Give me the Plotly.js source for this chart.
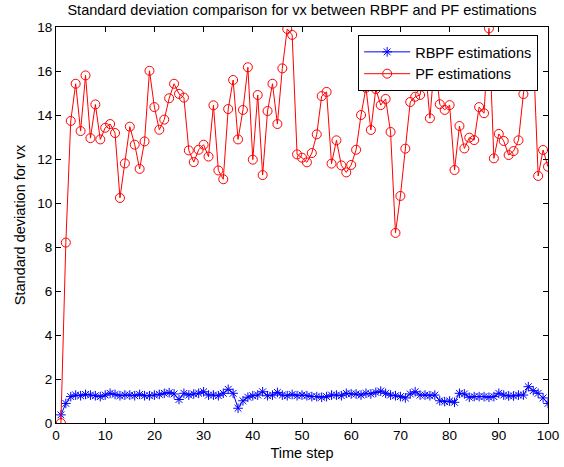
<!DOCTYPE html>
<html>
<head>
<meta charset="utf-8">
<script src="https://cdn.plot.ly/plotly-3.0.1.min.js"></script>
<style>html,body{margin:0;padding:0;background:#fff;}#chart{width:564px;height:467px;}</style>
</head>
<body>
<div id="chart"></div>
<script>
// Time steps 1..100
const rbpfStd = [0.37,0.89,1.2,1.27,1.24,1.3,1.27,1.24,1.2,1.27,
  1.35,1.3,1.24,1.27,1.27,1.24,1.3,1.24,1.24,1.27,
  1.3,1.35,1.38,1.32,1.07,1.35,1.27,1.32,1.35,1.42,
  1.27,1.27,1.24,1.35,1.53,1.35,0.67,1.01,1.17,1.24,
  1.27,1.42,1.24,1.27,1.39,1.27,1.24,1.3,1.24,1.27,
  1.24,1.2,1.2,1.17,1.2,1.27,1.27,1.24,1.35,1.32,
  1.32,1.27,1.35,1.32,1.39,1.45,1.35,1.27,1.24,1.2,
  1.14,1.32,1.42,1.27,1.27,1.24,1.27,1.01,0.97,1.0,
  0.94,1.35,1.32,1.17,1.2,1.2,1.2,1.17,1.2,1.35,
  1.27,1.23,1.23,1.27,1.27,1.65,1.47,1.35,1.14,0.89];
const pfStd = [0.0,8.2,13.73,15.42,13.27,15.8,12.95,14.48,12.89,13.42,
  13.59,13.18,10.23,11.8,13.47,12.65,11.55,12.8,16.01,14.36,
  13.33,13.79,14.76,15.42,14.96,14.79,12.39,11.86,12.42,12.65,
  12.11,14.44,11.48,11.08,14.27,15.59,12.89,14.23,16.17,11.97,
  14.91,11.27,14.18,15.42,13.59,16.12,17.91,17.64,12.21,12.06,
  11.85,12.27,13.12,14.86,15.05,11.79,12.85,11.71,11.39,11.73,
  12.42,14.0,15.24,13.32,15.18,14.45,14.73,13.23,8.64,10.32,
  12.47,14.59,14.83,14.91,16.3,13.85,16.6,14.49,14.23,14.45,
  11.5,13.5,12.48,12.97,12.86,14.36,14.08,17.94,12.03,13.14,
  12.82,12.18,12.36,12.85,14.95,16.4,16.9,11.23,12.41,11.65];
const timeStep = pfStd.map((_, i) => i + 1);
const seriesNames = ['RBPF estimations', 'PF estimations'];

const FONT = '"Liberation Sans", Arial, Helvetica, sans-serif';

const traces = [
  {
    x: timeStep, y: rbpfStd, name: seriesNames[0], type: 'scatter', mode: 'lines+markers',
    line: {color: '#0000ff', width: 1},
    marker: {symbol: 'asterisk-open', size: 8, color: '#0000ff', line: {color: '#0000ff', width: 1}}
  },
  {
    x: timeStep, y: pfStd, name: seriesNames[1], type: 'scatter', mode: 'lines+markers',
    line: {color: '#ff0000', width: 1},
    marker: {symbol: 'circle-open', size: 9, color: '#ff0000', line: {color: '#ff0000', width: 1}}
  }
];

const axisCommon = {
  showline: true, linecolor: '#000', linewidth: 1, mirror: 'ticks',
  ticks: 'inside', ticklen: 5, tickwidth: 1, tickcolor: '#000',
  showgrid: false, zeroline: false,
  tickfont: {family: FONT, size: 13.5, color: '#000'}
};

const layout = {
  width: 564, height: 467,
  margin: {l: 56, r: 16, t: 27, b: 44},
  paper_bgcolor: '#fff', plot_bgcolor: '#fff',
  font: {family: FONT, size: 14, color: '#000'},
  title: {text: 'Standard deviation comparison for vx between RBPF and PF estimations',
          x: 0.5, xref: 'paper', y: 0.979, yref: 'container', yanchor: 'middle',
          font: {family: FONT, size: 14.5, color: '#000'}},
  xaxis: Object.assign({}, axisCommon, {
    range: [0, 100], tick0: 0, dtick: 10,
    title: {text: 'Time step', font: {family: FONT, size: 14.5, color: '#000'}, standoff: 5}
  }),
  yaxis: Object.assign({}, axisCommon, {
    range: [0, 18], tick0: 0, dtick: 2,
    title: {text: 'Standard deviation for vx', font: {family: FONT, size: 14.5, color: '#000'}, standoff: 8}
  }),
  showlegend: true,
  legend: {
    x: 0.98, xanchor: 'right', y: 0.98, yanchor: 'top',
    bgcolor: '#fff', bordercolor: '#000', borderwidth: 1,
    font: {family: FONT, size: 14.5, color: '#000'},
    itemwidth: 46,
    entrywidth: 185, entrywidthmode: 'pixels',
    traceorder: 'normal'
  }
};

Plotly.newPlot('chart', traces, layout, {displayModeBar: false, staticPlot: true});
</script>
</body>
</html>
